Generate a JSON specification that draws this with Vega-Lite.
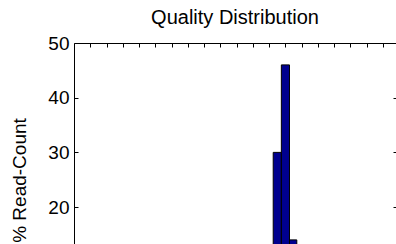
{
  "$schema": "https://vega.github.io/schema/vega-lite/v6.json",
  "autosize": {"type": "none"},
  "padding": {"left": 74, "top": 43, "right": 0, "bottom": 0},
  "width": 322,
  "height": 201,
  "background": "white",
  "title": {
    "text": "Quality Distribution",
    "font": "Liberation Sans",
    "fontSize": 20,
    "fontWeight": "normal",
    "color": "black",
    "baseline": "alphabetic",
    "offset": 17,
    "dy": 27,
    "anchor": "middle"
  },
  "config": {
    "view": {"stroke": null},
    "axis": {
      "grid": false,
      "domainColor": "black",
      "domainWidth": 1,
      "tickColor": "black",
      "tickWidth": 1,
      "labelColor": "black",
      "labelFont": "Liberation Sans",
      "labelFontSize": 19,
      "titleColor": "black",
      "titleFont": "Liberation Sans",
      "titleFontWeight": "normal"
    }
  },
  "data": {
    "values": [
      {"bin_start": 24.5, "bin_end": 25.5, "pct": 30},
      {"bin_start": 25.5, "bin_end": 26.5, "pct": 46},
      {"bin_start": 26.5, "bin_end": 27.4, "pct": 14}
    ]
  },
  "encoding": {
    "x": {
      "field": "bin_start",
      "type": "quantitative",
      "scale": {"domain": [0, 39.6], "nice": false, "zero": false},
      "axis": {
        "orient": "top",
        "title": null,
        "labels": false,
        "values": [2, 4, 6, 8, 10, 12, 14, 16, 18, 20, 22, 24, 26, 28, 30, 32, 34, 36, 38],
        "tickSize": -4
      }
    },
    "x2": {"field": "bin_end"},
    "y2": {"datum": 0}
  },
  "layer": [
    {
      "mark": {"type": "bar", "fill": "#00008F", "stroke": "black", "strokeWidth": 1, "clip": true},
      "encoding": {
        "y": {
          "field": "pct",
          "type": "quantitative",
          "scale": {"domain": [13.25, 50], "nice": false, "zero": false},
          "axis": {
            "orient": "left",
            "title": "% Read-Count",
            "titleFontSize": 19,
            "titleX": -49,
            "titleY": 137,
            "titleAngle": -90,
            "titleAlign": "center",
            "titleBaseline": "alphabetic",
            "values": [20, 30, 40, 50],
            "tickSize": -4,
            "labelPadding": 9
          }
        }
      }
    },
    {
      "mark": {"type": "bar", "opacity": 0, "clip": true},
      "encoding": {
        "y": {
          "field": "pct",
          "type": "quantitative",
          "axis": {
            "orient": "right",
            "title": null,
            "labels": false,
            "values": [20, 30, 40, 50],
            "tickSize": -3
          }
        }
      }
    }
  ],
  "resolve": {"axis": {"y": "independent"}}
}
